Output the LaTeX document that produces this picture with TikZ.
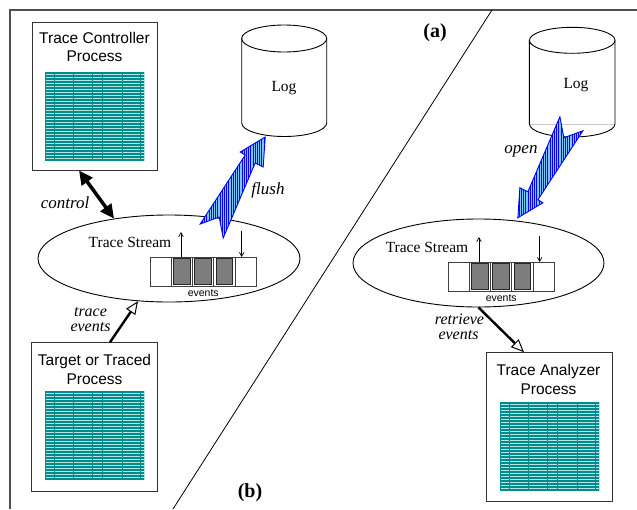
\documentclass[tikz,border=0pt]{standalone}
\usepackage{fontspec}
\setmainfont{Liberation Serif}
\newfontfamily\helv{Liberation Sans}
\usetikzlibrary{arrows.meta,shapes.geometric,patterns.meta,calc}

\definecolor{scrteal}{RGB}{0,140,140}
\definecolor{scrlight}{RGB}{185,228,228}
\definecolor{hatchbg}{RGB}{120,200,255}
\definecolor{framegray}{RGB}{80,80,80}
\definecolor{cellgray}{RGB}{125,125,125}

\tikzset{
  procbox/.style={draw=black!80, line width=1pt, rectangle, inner sep=0pt},
  proctext/.style={font=\helv\fontsize{15.5}{18.5}\selectfont, align=center, inner sep=0pt},
  streamtext/.style={font=\fontsize{15.5}{18}\selectfont, inner sep=0pt},
  flowlabel/.style={font=\itshape\fontsize{17}{14}\selectfont, inner sep=0pt},
  pairlabel/.style={font=\itshape\fontsize{16}{14}\selectfont, inner sep=0pt},
  partlabel/.style={font=\bfseries\fontsize{20}{22}\selectfont, inner sep=0pt},
  stream/.style={draw, ellipse, line width=0.9pt, inner sep=0pt},
  ctrlarrow/.style={line width=3.5pt,
    {Triangle[length=14pt,width=13pt]}-{Triangle[length=14pt,width=13pt]}},
  hollowarrow/.style={line width=2.4pt,
    -{Triangle[fill=white,line width=1pt,length=13pt,width=11pt]}},
  bufarrow/.style={line width=0.7pt, -{Straight Barb[length=4pt,width=4.5pt]}},
  % teal "screen" inside a process box
  screen/.pic={
    \fill[scrlight] (0,0) rectangle (100,89);
    \foreach \k in {0,...,29}
      \draw[scrteal, line width=2pt] (0,1+\k*3) -- (99,1+\k*3);
    \foreach \xx in {0.5,9.5,28.5,47.5,57.5,77.5,95.5}
      \draw[scrteal, line width=1pt] (\xx,0) -- (\xx,89);
  },
  % five-slot event buffer with read/write pointers
  evbuffer/.pic={
    \foreach \i in {0,...,4}
      \draw[black!75, line width=0.9pt] (\i*21.3,0) rectangle ++(21.3,29);
    \foreach \i in {1,2,3}
      \draw[black!85, fill=cellgray, line width=0.9pt] (\i*21.3+2.3,1.7) rectangle ++(16.7,25.6);
    \draw[bufarrow] (1.5*21.3-1,0) -- (1.5*21.3-1,-25);
    \draw[bufarrow] (4*21.3+6.5,-26) -- (4*21.3+6.5,0);
    \node[font=\helv\fontsize{10.5}{12}\selectfont, inner sep=0pt] (-lbl) at (2.5*21.3,36) {events};
  },
  % hatched fat arrow, tip at the origin
  fatarrow/.pic={
    \draw[blue, line width=0.9pt, line join=miter, preaction={fill=hatchbg},
          pattern={Lines[angle=90,distance=2.2pt,line width=0.9pt]}, pattern color=blue]
      (0,0) -- (25,-15) -- (20,-18) -- (65,-87) -- (46,-80) -- (42,-101)
      -- (10,-26) -- (2,-30) -- cycle;
  },
}

\begin{document}
\begin{tikzpicture}[x=1pt,y=-1pt]
\useasboundingbox (0,0) rectangle (637,509);

% frame and divider
\draw[framegray, line width=1.2pt] (10,509) -- (10,10) -- (637,10);
\draw[line width=0.8pt] (492,10) -- (173,509);
\node[partlabel] (pa) at (435,33) {(a)};
\node[partlabel] (pb) at (250,493) {(b)};

% process boxes
\node[procbox, minimum width=125pt, minimum height=148pt] (ctrl) at (94.5,96) {};
\node[proctext] (ctrlT) at (94.5,47) {Trace Controller\\Process};
\pic at (45,72) {screen};

\node[procbox, minimum width=125.6pt, minimum height=149pt] (tgt) at (94.5,417.2) {};
\node[proctext] (tgtT) at (94.5,369.3) {Target or Traced\\Process};
\pic at (45,391) {screen};

\node[procbox, minimum width=126pt, minimum height=149pt] (ana) at (549.7,427.2) {};
\node[proctext] (anaT) at (548.5,379.3) {Trace Analyzer\\Process};
\pic at (500,402) {screen};

% trace streams
\node[stream, minimum width=262pt, minimum height=87pt] (strL) at (169,258.5) {};
\node[streamtext] (strLT) at (130,242) {Trace Stream};
\pic (bufL) at (150,257) {evbuffer};

\node[stream, minimum width=251pt, minimum height=88pt] (strR) at (478.5,263) {};
\node[streamtext] (strRT) at (427,247) {Trace Stream};
\pic (bufR) at (448,262) {evbuffer};

% log files
\draw[line width=0.9pt] (284.2,38.5) ellipse [x radius=42.5, y radius=13.5];
\draw[line width=0.9pt] (241.7,38.5) -- (241.7,123)
  arc [start angle=180, end angle=0, x radius=42.5, y radius=13.5] -- (326.7,38.5);
\node[streamtext] (logL) at (284,88) {Log};
\coordinate (logLbase) at (284.2,136);

\draw[black!20, line width=0.8pt] (529.4,124) -- (615,124);
\draw[line width=0.9pt] (572.2,40.3) ellipse [x radius=42.8, y radius=13];
\draw[line width=0.9pt] (529.4,40.3) -- (529.4,124)
  arc [start angle=180, end angle=0, x radius=42.8, y radius=13] -- (615,40.3);
\node[streamtext] (logR) at (576,85) {Log};

% connectors
\draw[ctrlarrow] ($(ctrl.south)+(-15.5,0)$) -- (strL.144);
\node[flowlabel] (lctrl) at (65,203) {control};

\draw[hollowarrow] ($(tgt.north)+(15.5,0)$) -- (strL.234.6);
\node[pairlabel, anchor=base] (ltraceA) at (90.5,316) {trace};
\node[pairlabel, anchor=base] (ltraceB) at (90.5,331.5) {events};

\draw[hollowarrow] (strR.south) -- ($(ana.north)+(-25.7,0)$);
\node[pairlabel, anchor=base] (lretA) at (459.5,324) {retrieve};
\node[pairlabel, anchor=base] (lretB) at (458.5,339.5) {events};

\pic[rotate=180] at ($(logLbase)+(-19,1)$) {fatarrow};
\node[flowlabel] (lflush) at (268,190) {flush};

\pic at ($(strR.47)+(0,-3)$) {fatarrow};
\node[flowlabel] (lopen) at (521,151) {open};
\end{tikzpicture}
\end{document}
